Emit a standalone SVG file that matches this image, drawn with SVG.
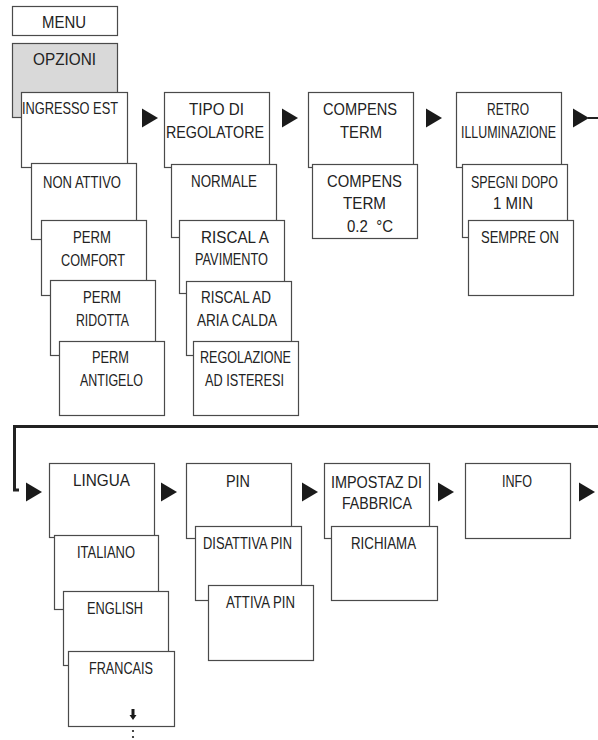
<svg xmlns="http://www.w3.org/2000/svg" width="598" height="740" viewBox="0 0 598 740">
<style>
rect.b{fill:#fff;stroke:#4a4a4a;stroke-width:1.2}
rect.g{fill:#d9d9d9;stroke:#4a4a4a;stroke-width:1.2}
text{font-family:"Liberation Sans",Arial,sans-serif;font-size:16.5px;fill:#222}
.tri{fill:#1a1a1a}
.thick{fill:none;stroke:#222;stroke-width:3}
</style>
<defs>
<path id="tri" d="M0,-9.5 L16,0 L0,9.5 Z"/>
</defs>
<rect width="598" height="740" fill="#fff"/>
<g id="connectors">
<use href="#tri" class="tri" x="142" y="118"/>
<use href="#tri" class="tri" x="282" y="118"/>
<use href="#tri" class="tri" x="426" y="118"/>
<use href="#tri" class="tri" x="573" y="118"/>
<line x1="588" y1="118" x2="598" y2="118" stroke="#222" stroke-width="2"/>
<polyline class="thick" points="598,426.5 14.5,426.5 14.5,490 19,490"/>
<use href="#tri" class="tri" x="26" y="492"/>
<use href="#tri" class="tri" x="161" y="492"/>
<use href="#tri" class="tri" x="302" y="492"/>
<use href="#tri" class="tri" x="438" y="492"/>
<use href="#tri" class="tri" x="579" y="492"/>
</g>
<g id="menu"><rect class="b" x="12.5" y="6.5" width="105" height="29"/><text x="42" y="28" textLength="44" lengthAdjust="spacingAndGlyphs">MENU</text></g>
<g id="opzioni"><rect class="g" x="12.5" y="43.5" width="105" height="74"/><text x="33" y="65" textLength="63" lengthAdjust="spacingAndGlyphs">OPZIONI</text></g>
<g id="ingresso"><rect class="b" x="21.5" y="92.5" width="106" height="75"/><text x="22" y="114" textLength="96" lengthAdjust="spacingAndGlyphs">INGRESSO EST</text></g>
<g id="nonattivo"><rect class="b" x="31.5" y="163.5" width="105" height="76"/><text x="43" y="188" textLength="78" lengthAdjust="spacingAndGlyphs">NON ATTIVO</text></g>
<g id="permcomfort"><rect class="b" x="41.5" y="220.5" width="105" height="75"/><text x="73" y="243" textLength="38" lengthAdjust="spacingAndGlyphs">PERM</text><text x="61" y="266" textLength="64" lengthAdjust="spacingAndGlyphs">COMFORT</text></g>
<g id="permridotta"><rect class="b" x="50.5" y="280.5" width="105" height="75"/><text x="83" y="303" textLength="38" lengthAdjust="spacingAndGlyphs">PERM</text><text x="76" y="326" textLength="53" lengthAdjust="spacingAndGlyphs">RIDOTTA</text></g>
<g id="permantigelo"><rect class="b" x="59.5" y="341.5" width="105" height="74"/><text x="92" y="363" textLength="37" lengthAdjust="spacingAndGlyphs">PERM</text><text x="80" y="386" textLength="63" lengthAdjust="spacingAndGlyphs">ANTIGELO</text></g>
<g id="tipo"><rect class="b" x="164.5" y="92.5" width="105" height="75"/><text x="189" y="115" textLength="55" lengthAdjust="spacingAndGlyphs">TIPO DI</text><text x="166" y="138" textLength="98" lengthAdjust="spacingAndGlyphs">REGOLATORE</text></g>
<g id="normale"><rect class="b" x="171.5" y="164.5" width="105" height="73"/><text x="191" y="187" textLength="66" lengthAdjust="spacingAndGlyphs">NORMALE</text></g>
<g id="riscala"><rect class="b" x="179.5" y="220.5" width="105" height="73"/><text x="201" y="243" textLength="68" lengthAdjust="spacingAndGlyphs">RISCAL A</text><text x="195" y="265" textLength="73" lengthAdjust="spacingAndGlyphs">PAVIMENTO</text></g>
<g id="riscalad"><rect class="b" x="186.5" y="281.5" width="105" height="74"/><text x="201" y="303" textLength="70" lengthAdjust="spacingAndGlyphs">RISCAL AD</text><text x="197" y="326" textLength="80" lengthAdjust="spacingAndGlyphs">ARIA CALDA</text></g>
<g id="regolazione"><rect class="b" x="193.5" y="341.5" width="105" height="74"/><text x="200" y="363" textLength="91" lengthAdjust="spacingAndGlyphs">REGOLAZIONE</text><text x="205" y="386" textLength="79" lengthAdjust="spacingAndGlyphs">AD ISTERESI</text></g>
<g id="compens"><rect class="b" x="308.5" y="92.5" width="105" height="75"/><text x="323" y="115" textLength="74" lengthAdjust="spacingAndGlyphs">COMPENS</text><text x="340" y="138" textLength="42" lengthAdjust="spacingAndGlyphs">TERM</text></g>
<g id="compens2"><rect class="b" x="312.5" y="164.5" width="105" height="74"/><text x="327" y="187" textLength="75" lengthAdjust="spacingAndGlyphs">COMPENS</text><text x="343" y="209" textLength="43" lengthAdjust="spacingAndGlyphs">TERM</text><text x="347" y="232" textLength="46" lengthAdjust="spacingAndGlyphs" style="white-space:pre">0.2  °C</text></g>
<g id="retro"><rect class="b" x="456.5" y="92.5" width="105" height="75"/><text x="487" y="115" textLength="42" lengthAdjust="spacingAndGlyphs">RETRO</text><text x="461" y="138" textLength="95" lengthAdjust="spacingAndGlyphs">ILLUMINAZIONE</text></g>
<g id="spegni"><rect class="b" x="462.5" y="164.5" width="105" height="73"/><text x="471" y="188" textLength="87" lengthAdjust="spacingAndGlyphs">SPEGNI DOPO</text><text x="493" y="209" textLength="40" lengthAdjust="spacingAndGlyphs">1 MIN</text></g>
<g id="sempre"><rect class="b" x="468.5" y="220.5" width="105" height="75"/><text x="481" y="243" textLength="78" lengthAdjust="spacingAndGlyphs">SEMPRE ON</text></g>
<g id="lingua"><rect class="b" x="49.5" y="463.5" width="105" height="74"/><text x="73" y="486" textLength="57" lengthAdjust="spacingAndGlyphs">LINGUA</text></g>
<g id="italiano"><rect class="b" x="54.5" y="535.5" width="104" height="74"/><text x="77" y="558" textLength="58" lengthAdjust="spacingAndGlyphs">ITALIANO</text></g>
<g id="english"><rect class="b" x="63.5" y="591.5" width="105" height="74"/><text x="87" y="614" textLength="56" lengthAdjust="spacingAndGlyphs">ENGLISH</text></g>
<g id="francais"><rect class="b" x="68.5" y="651.5" width="106" height="75"/><text x="89" y="674" textLength="64" lengthAdjust="spacingAndGlyphs">FRANCAIS</text>
<path d="M131.5,709 H134.5 V715 H136.5 L133,720 L129.5,715 H131.5 Z" fill="#1a1a1a"/>
<circle cx="133" cy="731" r="1.1" fill="#1a1a1a"/><circle cx="133" cy="737" r="1.1" fill="#1a1a1a"/></g>
<g id="pin"><rect class="b" x="186.5" y="463.5" width="105" height="75"/><text x="226" y="487" textLength="24" lengthAdjust="spacingAndGlyphs">PIN</text></g>
<g id="disattiva"><rect class="b" x="195.5" y="526.5" width="106" height="74"/><text x="203" y="549" textLength="89" lengthAdjust="spacingAndGlyphs">DISATTIVA PIN</text></g>
<g id="attiva"><rect class="b" x="208.5" y="585.5" width="105" height="75"/><text x="226" y="608" textLength="69" lengthAdjust="spacingAndGlyphs">ATTIVA PIN</text></g>
<g id="impostaz"><rect class="b" x="324.5" y="463.5" width="105" height="75"/><text x="331" y="488" textLength="91" lengthAdjust="spacingAndGlyphs">IMPOSTAZ DI</text><text x="342" y="509" textLength="70" lengthAdjust="spacingAndGlyphs">FABBRICA</text></g>
<g id="richiama"><rect class="b" x="331.5" y="526.5" width="106" height="74"/><text x="351" y="549" textLength="65" lengthAdjust="spacingAndGlyphs">RICHIAMA</text></g>
<g id="info"><rect class="b" x="465.5" y="463.5" width="105" height="75"/><text x="502" y="487" textLength="30" lengthAdjust="spacingAndGlyphs">INFO</text></g>
</svg>
